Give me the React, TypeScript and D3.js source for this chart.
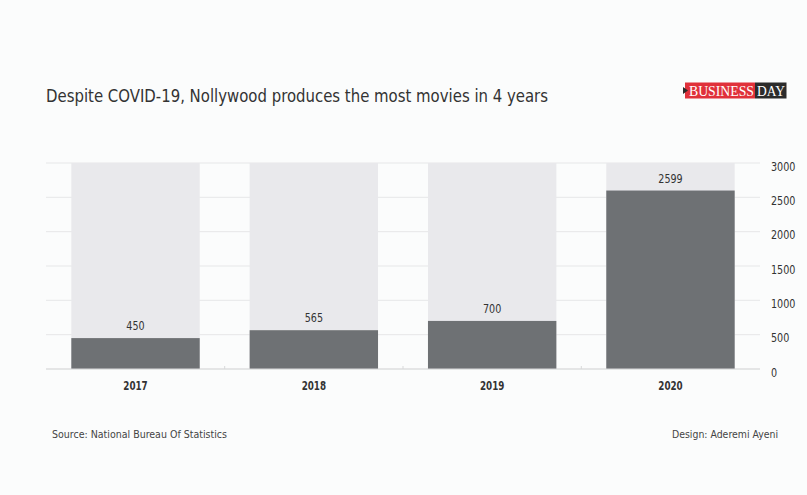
import React, { useEffect } from "react";
import * as d3 from "d3";

const years = ["2017", "2018", "2019", "2020"];
const movies = [450, 565, 700, 2599];
const yTicks = [0, 500, 1000, 1500, 2000, 2500, 3000];
const title = "Despite COVID-19, Nollywood produces the most movies in 4 years";
const source = "Source: National Bureau Of Statistics";
const design = "Design: Aderemi Ayeni";

const W = 807;
const H = 495;
const FONT = "'DejaVu Sans Condensed', 'Liberation Sans Narrow', Arial, sans-serif";
const DIGIT = 6.1;

export default function App() {
  useEffect(() => {
    document.body.style.margin = "0";
    document.body.style.background = "#fbfcfc";
  }, []);

  const x = d3
    .scaleBand<string>()
    .domain(years)
    .range([46, 760])
    .paddingInner(0.28)
    .paddingOuter(0.142);
  const y = d3.scaleLinear().domain([0, 3000]).range([369, 163]);
  const step = x.step();

  return (
    <svg width={W} height={H} style={{ display: "block", background: "#fbfcfc" }}>
      <rect x={0} y={0} width={W} height={H} fill="#fbfcfc" />
      <text x={46} y={102} fontFamily={FONT} fontSize={18} fill="#333" textLength={502} lengthAdjust="spacingAndGlyphs">
        {title}
      </text>
      {/* logo */}
      <g>
        <rect x={685} y={82.5} width={70} height={16} fill="#e0313a" />
        <rect x={755} y={82.5} width={31.5} height={16} fill="#2b2b2b" />
        <path d="M683,87 L688,90.5 L683,94 Z" fill="#2b2b2b" />
        <text x={689} y={96.3} fontFamily="'Liberation Serif', serif" fontSize={15} fill="#fff" textLength={65} lengthAdjust="spacingAndGlyphs">
          BUSINESS
        </text>
        <text x={757} y={96.3} fontFamily="'Liberation Serif', serif" fontSize={15} fill="#fff" textLength={28} lengthAdjust="spacingAndGlyphs">
          DAY
        </text>
      </g>
      {/* gridlines */}
      {yTicks.map((t) => (
        <line key={"g" + t} x1={46} x2={760} y1={y(t)} y2={y(t)} stroke="#e6e7e8" strokeWidth={1} />
      ))}
      {/* background bars */}
      {years.map((yr) => (
        <rect key={"bg" + yr} x={x(yr)} y={y(3000)} width={x.bandwidth()} height={y(0) - y(3000)} fill="#e9e9ec" />
      ))}
      {/* value bars */}
      {years.map((yr, i) => (
        <rect key={"b" + yr} x={x(yr)} y={y(movies[i])} width={x.bandwidth()} height={y(0) - y(movies[i])} fill="#6e7174" />
      ))}
      {/* baseline */}
      <line x1={46} x2={760} y1={y(0)} y2={y(0)} stroke="#d8d9da" strokeWidth={1} />
      {years.slice(1).map((yr) => (
        <line key={"t" + yr} x1={(x(yr) as number) - (step - x.bandwidth()) / 2} x2={(x(yr) as number) - (step - x.bandwidth()) / 2} y1={y(0) - 3} y2={y(0)} stroke="#d8d9da" />
      ))}
      {/* value labels */}
      {years.map((yr, i) => (
        <text key={"v" + yr} x={(x(yr) as number) + x.bandwidth() / 2} y={y(movies[i]) - 8} textAnchor="middle" fontFamily={FONT} fontSize={12} fill="#333" textLength={String(movies[i]).length * DIGIT} lengthAdjust="spacingAndGlyphs">
          {movies[i]}
        </text>
      ))}
      {/* x labels */}
      {years.map((yr) => (
        <text key={"x" + yr} x={(x(yr) as number) + x.bandwidth() / 2} y={390} textAnchor="middle" fontFamily={FONT} fontSize={12} fontWeight="bold" fill="#333" textLength={yr.length * DIGIT} lengthAdjust="spacingAndGlyphs">
          {yr}
        </text>
      ))}
      {/* y labels */}
      {yTicks.map((t) => (
        <text key={"y" + t} x={771} y={y(t) + 7.5} fontFamily={FONT} fontSize={12} fill="#333" textLength={String(t).length * DIGIT} lengthAdjust="spacingAndGlyphs">
          {t}
        </text>
      ))}
      <text x={52} y={438} fontFamily={FONT} fontSize={11} fill="#444" textLength={175} lengthAdjust="spacingAndGlyphs">
        {source}
      </text>
      <text x={672} y={438} fontFamily={FONT} fontSize={11} fill="#444" textLength={106} lengthAdjust="spacingAndGlyphs">
        {design}
      </text>
    </svg>
  );
}
